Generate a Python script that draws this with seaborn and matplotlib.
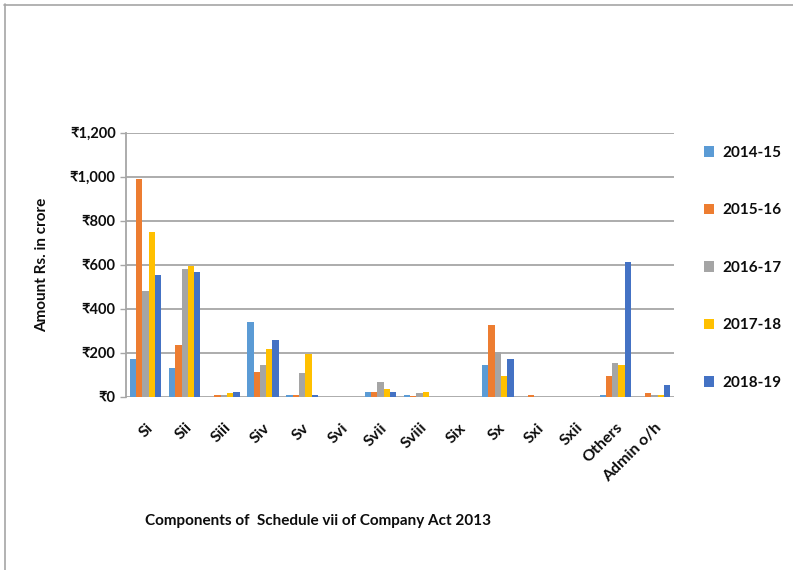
import matplotlib
matplotlib.use("Agg")
import matplotlib.pyplot as plt
import seaborn as sns
import pandas as pd
from matplotlib.lines import Line2D

categories = ["Si", "Sii", "Siii", "Siv", "Sv", "Svi", "Svii", "Sviii", "Six",
              "Sx", "Sxi", "Sxii", "Others", "Admin o/h"]
years = ["2014-15", "2015-16", "2016-17", "2017-18", "2018-19"]

v_2014_15 = [171, 133, 1, 341, 10, 1, 23, 10, 0, 147, 1, 1, 10, 1]
v_2015_16 = [988, 236, 9, 114, 10, 2, 23, 3, 0, 327, 10, 1, 95, 17]
v_2016_17 = [483, 580, 9, 147, 108, 1, 67, 17, 0, 203, 1, 1, 153, 10]
v_2017_18 = [748, 594, 17, 217, 197, 1, 35, 23, 0, 95, 1, 1, 147, 10]
v_2018_19 = [554, 567, 23, 258, 10, 2, 23, 0, 0, 171, 2, 1, 614, 56]

yticks = [0, 200, 400, 600, 800, 1000, 1200]
ytick_labels = ["₹0", "₹200", "₹400", "₹600", "₹800", "₹1,000", "₹1,200"]

colors = ["#5B9BD5", "#ED7D31", "#A5A5A5", "#FFC000", "#4472C4"]

series = [v_2014_15, v_2015_16, v_2016_17, v_2017_18, v_2018_19]
rows = []
for yr, vals in zip(years, series):
    for c, v in zip(categories, vals):
        rows.append({"category": c, "year": yr, "value": v})
df = pd.DataFrame(rows)

sns.set_theme(style="white")
FAM = ["Lato", "DejaVu Sans"]
plt.rcParams["font.family"] = FAM
TXT = "#0d0d0d"

fig = plt.figure(figsize=(7.93, 5.70), dpi=100)
ax = fig.add_axes([126 / 793, 1 - 397 / 570, (674 - 126) / 793, (397 - 132.7) / 570])

sns.barplot(data=df, x="category", y="value", hue="year", order=categories,
            hue_order=years, palette=colors, width=0.8, saturation=1,
            linewidth=0, ax=ax, legend=False, errorbar=None)

ax.set_ylim(0, 1200)
ax.set_xlim(-0.5, len(categories) - 0.5)
ax.set_yticks(yticks)
ax.set_yticklabels(ytick_labels, fontsize=10.5, fontweight="bold", color=TXT)
ax.yaxis.grid(True, color="#A6A6A6", linewidth=1.3)
ax.set_axisbelow(True)
for s in ["top", "right", "bottom"]:
    ax.spines[s].set_visible(False)
ax.spines["left"].set_color("#A6A6A6")
ax.spines["left"].set_linewidth(1.3)
ax.tick_params(axis="y", which="major", left=True, length=4.5, width=1.0,
               color="#A6A6A6", pad=3)
ax.tick_params(axis="x", bottom=False, pad=11)
ax.set_xticks(range(len(categories)))
ax.set_xticklabels(categories, rotation=45, ha="right", rotation_mode="anchor",
                   fontsize=11.5, fontweight="bold", color=TXT)
ax.set_xlabel("")
ax.set_ylabel("Amount Rs. in crore", fontsize=11, fontweight="bold",
              color=TXT, labelpad=15)

fig.text(318 / 793, 1 - 521 / 570, "Components of  Schedule vii of Company Act 2013",
         ha="center", va="center", fontsize=11, fontweight="bold", color=TXT)

handles = [plt.Rectangle((0, 0), 1, 1, facecolor=c, edgecolor="none") for c in colors]
leg = fig.legend(handles, years, loc="upper left",
                 bbox_to_anchor=(690 / 793, 1 - 132 / 570),
                 frameon=False, handlelength=0.7, handleheight=0.7,
                 handletextpad=0.5, labelspacing=2.85,
                 prop={"weight": "bold", "size": 11, "family": FAM})
for t in leg.get_texts():
    t.set_color(TXT)

# outer border lines (top and left)
fig.add_artist(Line2D([4 / 793, 1], [1 - 5 / 570, 1 - 5 / 570],
                      transform=fig.transFigure, color="#A6A6A6", linewidth=1.2))
fig.add_artist(Line2D([5 / 793, 5 / 793], [0, 1 - 4 / 570],
                      transform=fig.transFigure, color="#A6A6A6", linewidth=1.2))

fig.savefig("out.png", dpi=100)
